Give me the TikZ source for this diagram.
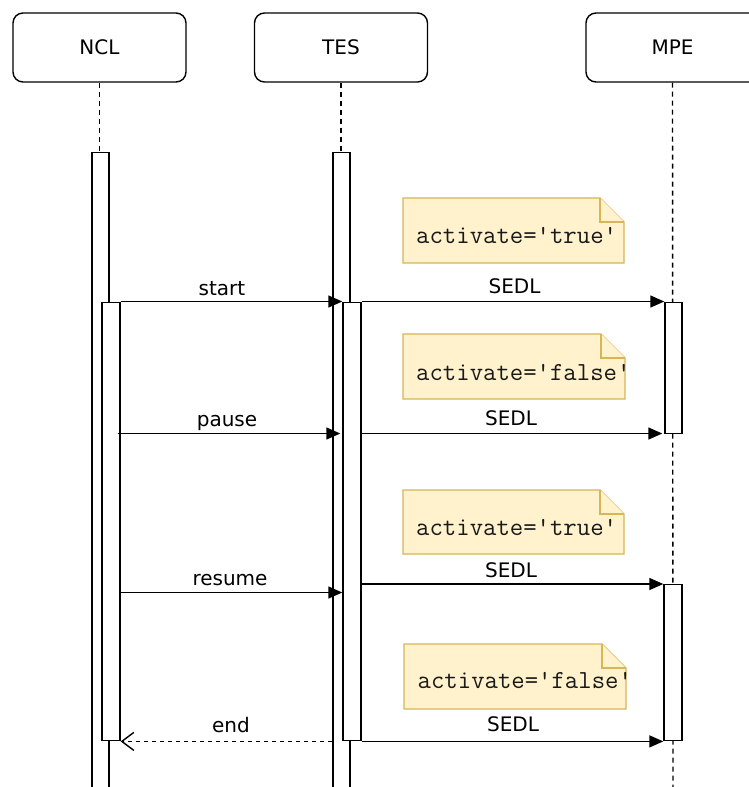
\documentclass[tikz,border=0pt]{standalone}
\usepackage{fontspec}
\setmainfont{DejaVu Sans}
\usetikzlibrary{arrows.meta}
\definecolor{notefill}{HTML}{FFF2CC}
\definecolor{notedraw}{HTML}{D6B656}
\begin{document}
\begin{tikzpicture}[x=1pt,y=-1pt,
  header/.style={draw, rounded corners=10pt, line width=1.4pt, minimum width=173pt, minimum height=69pt, font=\fontsize{20}{24}\selectfont, inner sep=0pt},
  bar/.style={draw, fill=white, line width=1.4pt, minimum width=17pt, anchor=north, inner sep=0pt},
  life/.style={line width=1.4pt, dash pattern=on 5pt off 4pt},
  msg/.style={line width=1.4pt, -{Triangle[length=14pt,width=12pt]}},
  ret/.style={line width=1.4pt, dash pattern=on 4pt off 4pt, -{Straight Barb[length=12pt,width=18pt]}},
  lbl/.style={font=\fontsize{20}{24}\selectfont, anchor=base, inner sep=0pt},
  notebox/.style={draw=notedraw, fill=notefill, line width=1.4pt, line join=miter},
  notetext/.style={font=\ttfamily\fontsize{26}{29}\selectfont, anchor=base west, inner sep=0pt, text=black!90},
]
\useasboundingbox (0,0) rectangle (749,787);
\clip (0,0) rectangle (749,787);

% headers
\node[header] (ncl) at (99.5,47.5) {NCL};
\node[header] (tes) at (341,47.5) {TES};
\node[header] (mpe) at (672.5,47.5) {MPE};

% lifelines
\coordinate (mpeend) at (673,790);
\draw[life] (mpe.south) -- (mpeend);
\draw[life] (ncl.south) -- (ncl.south |- 0,152);
\draw[life] (tes.south) -- (tes.south |- 0,152);

% activation bars
\node[bar, minimum height=640pt] (nclo) at (100.5,152) {};
\node[bar, minimum height=640pt] (teso) at (341.5,152) {};
\node[bar, minimum width=18pt, minimum height=438.5pt] (ncli) at (111,301.5) {};
\node[bar, minimum width=18pt, minimum height=438.5pt] (tesi) at (352,301.5) {};
\node[bar, minimum height=131.5pt] (mpea) at (673.5,301.5) {};
\node[bar, minimum width=18pt, minimum height=156pt] (mpeb) at (673,584) {};

% notes
\draw[notebox] (403,198) -- (600,198) -- (624,222) -- (624,263) -- (403,263) -- cycle;
\draw[notebox] (600,198) -- (600,222) -- (624,222);
\draw[notebox] (403,334) -- (601,334) -- (625,358) -- (625,399) -- (403,399) -- cycle;
\draw[notebox] (601,334) -- (601,358) -- (625,358);
\draw[notebox] (403,490) -- (600,490) -- (624,514) -- (624,554) -- (403,554) -- cycle;
\draw[notebox] (600,490) -- (600,514) -- (624,514);
\draw[notebox] (404,644) -- (602,644) -- (626,668) -- (626,709) -- (404,709) -- cycle;
\draw[notebox] (602,644) -- (602,668) -- (626,668);
\node[notetext] (n1) at (416,243) {activate='true'};
\node[notetext] (n2) at (416,380) {activate='false'};
\node[notetext] (n3) at (416,535) {activate='true'};
\node[notetext] (n4) at (417.5,688) {activate='false'};

% message rows
\coordinate (yp) at (0,433.5);
\coordinate (yr) at (0,592.5);
\coordinate (ys) at (0,584);

\draw[msg] (ncli.north east) -- (tesi.north west);
\draw[msg] (tesi.north east) -- (mpea.north west);
\draw[msg] ([xshift=-3pt]ncli.east |- yp) -- ([xshift=-2pt]tesi.west |- yp);
\draw[msg] (tesi.east |- yp) -- ([xshift=-2pt]mpea.west |- yp);
\draw[msg] (ncli.east |- yr) -- (tesi.west |- yr);
\draw[msg] (tesi.east |- ys) -- (mpeb.north west);
\draw[ret] (teso.west |- tesi.south) -- (ncli.south east);
\draw[msg] (tesi.south east) -- (mpeb.south west);

% labels
\node[lbl] (lstart) at (222,295) {start};
\node[lbl] (lsedl1) at (514.5,293) {SEDL};
\node[lbl] (lpause) at (227,426.5) {pause};
\node[lbl] (lsedl2) at (511,425.5) {SEDL};
\node[lbl] (lresume) at (230,585) {resume};
\node[lbl] (lsedl3) at (511,577) {SEDL};
\node[lbl] (lend) at (231,732) {end};
\node[lbl] (lsedl4) at (513,731.5) {SEDL};
\end{tikzpicture}
\end{document}
